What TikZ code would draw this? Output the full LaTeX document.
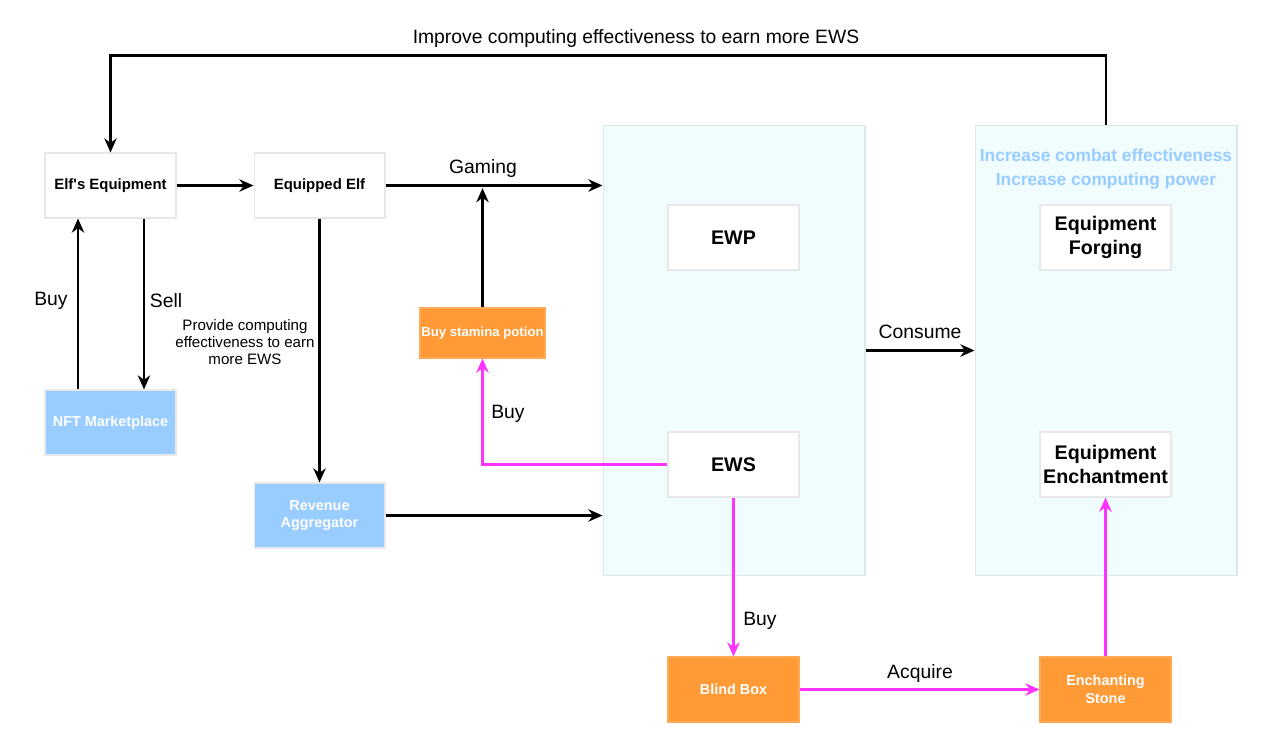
\documentclass[tikz,border=0pt]{standalone}
\usepackage{fontspec}
\setmainfont{Liberation Sans}[Ligatures=TeXOff]
\usepackage{tikz}
\usetikzlibrary{arrows.meta, positioning}
\definecolor{boxline}{HTML}{E6E8EA}
\definecolor{panelfill}{HTML}{F1FCFE}
\definecolor{panelline}{HTML}{DDE6EA}
\definecolor{skyblue}{HTML}{99CCFF}
\definecolor{orangefill}{HTML}{FF9A36}
\definecolor{linkpink}{HTML}{FF33FF}
\tikzstyle{arrow} = [line width=1.35pt, -{Stealth[length=8pt,width=7pt,inset=2.5pt]}]
\tikzstyle{pinkarrow} = [arrow, draw=linkpink, color=linkpink]
\tikzset{whitebox/.style={draw=boxline, fill=white, line width=0.6pt, inner sep=0pt,
    minimum width=2.62cm, minimum height=1.3cm, align=center,
    font=\fontsize{8.5}{10}\selectfont\bfseries},
  bigbox/.style={whitebox, font=\fontsize{11.2}{13.2}\selectfont\bfseries},
  bluebox/.style={whitebox, fill=skyblue, text=white, font=\fontsize{8.2}{10}\selectfont\bfseries},
  orangebox/.style={whitebox, fill=orangefill, draw=orangefill!85!white, text=white,
    font=\fontsize{8.2}{10}\selectfont\bfseries},
  panel/.style={draw=panelline, fill=panelfill, line width=0.6pt,
    minimum width=5.24cm, minimum height=9.02cm},
  hint/.style={text=skyblue, font=\fontsize{9.9}{12}\selectfont\bfseries},
  lbl/.style={inner sep=0pt, font=\fontsize{11}{13}\selectfont}}

\begin{document}
\begin{tikzpicture}[x=0.02cm, y=-0.02cm]
        \useasboundingbox (0,0) rectangle (1265,744);

        % Draw the two large panels
        \node[panel] (gamePanel) at (734,350.5) {};
        \node[panel] (upgradePanel) at (1106,350.5) {};
        \node[hint] at (1106,155) {Increase combat effectiveness};
        \node[hint] at (1106,181) {Increase computing power};

        % Draw the boxes on the left
        \node[whitebox] (elfEquip) at (110.5,185.5) {Elf's Equipment};
        \node[whitebox, right=1.54cm of elfEquip] (equippedElf) {Equipped Elf};
        \node[bluebox, below=3.42cm of elfEquip] (nftMarket) {NFT Marketplace};
        \node[bluebox, below=5.28cm of equippedElf] (revenue) {Revenue\\Aggregator};
        \node[orangebox, minimum width=2.5cm, minimum height=1cm, font=\fontsize{7.5}{9}\selectfont\bfseries] (potion) at (482.5,333) {Buy stamina potion};

        % Draw the boxes inside the panels
        \node[bigbox] (ewp) at (733.5,237.5) {EWP};
        \node[bigbox, below=3.22cm of ewp] (ews) {EWS};
        \node[bigbox] (forging) at (1105.5,237.5) {Equipment\\Forging};
        \node[bigbox, below=3.22cm of forging] (enchant) {Equipment\\Enchantment};

        % Draw the boxes at the bottom
        \node[orangebox] (blindBox) at (733.5,689.5) {Blind Box};
        \node[orangebox] (stone) at (1105.5,689.5) {Enchanting\\Stone};

        % Black connectors
        \draw[arrow] (elfEquip) -- (equippedElf);
        \draw[arrow] (equippedElf) -- (equippedElf -| gamePanel.west);
        \draw[arrow, shorten >=1.5pt] (potion) -- (potion |- equippedElf.east);
        \draw[arrow] ([xshift=-0.65cm]nftMarket.north) -- ([xshift=-0.65cm]elfEquip.south);
        \draw[arrow] ([xshift=0.67cm]elfEquip.south) -- ([xshift=0.67cm]nftMarket.north);
        \draw[arrow] (equippedElf) -- (revenue);
        \draw[arrow] (revenue) -- (revenue -| gamePanel.west);
        \draw[arrow] (gamePanel) -- (upgradePanel);
        \draw[arrow] (upgradePanel.north) |- ([yshift=1.94cm]elfEquip.north) -- (elfEquip.north);

        % Pink connectors
        \draw[pinkarrow] (ews.west) -| (potion.south);
        \draw[pinkarrow] (ews) -- (blindBox);
        \draw[pinkarrow] (blindBox) -- (stone);
        \draw[pinkarrow] (stone) -- (enchant);

        % Connector labels
        \node[lbl] at (636,39) {Improve computing effectiveness to earn more EWS};
        \node[lbl] at (483,168) {Gaming};
        \node[lbl] at (51,301) {Buy};
        \node[lbl] at (166,301) {Sell};
        \node[lbl, align=center, font=\fontsize{8.6}{9.7}\selectfont] at (245,342) {Provide computing\\effectiveness to earn\\more EWS};
        \node[lbl] at (508,414) {Buy};
        \node[lbl] at (920,332) {Consume};
        \node[lbl] at (760,621) {Buy};
        \node[lbl] at (920,673) {Acquire};
    \end{tikzpicture}
\end{document}
